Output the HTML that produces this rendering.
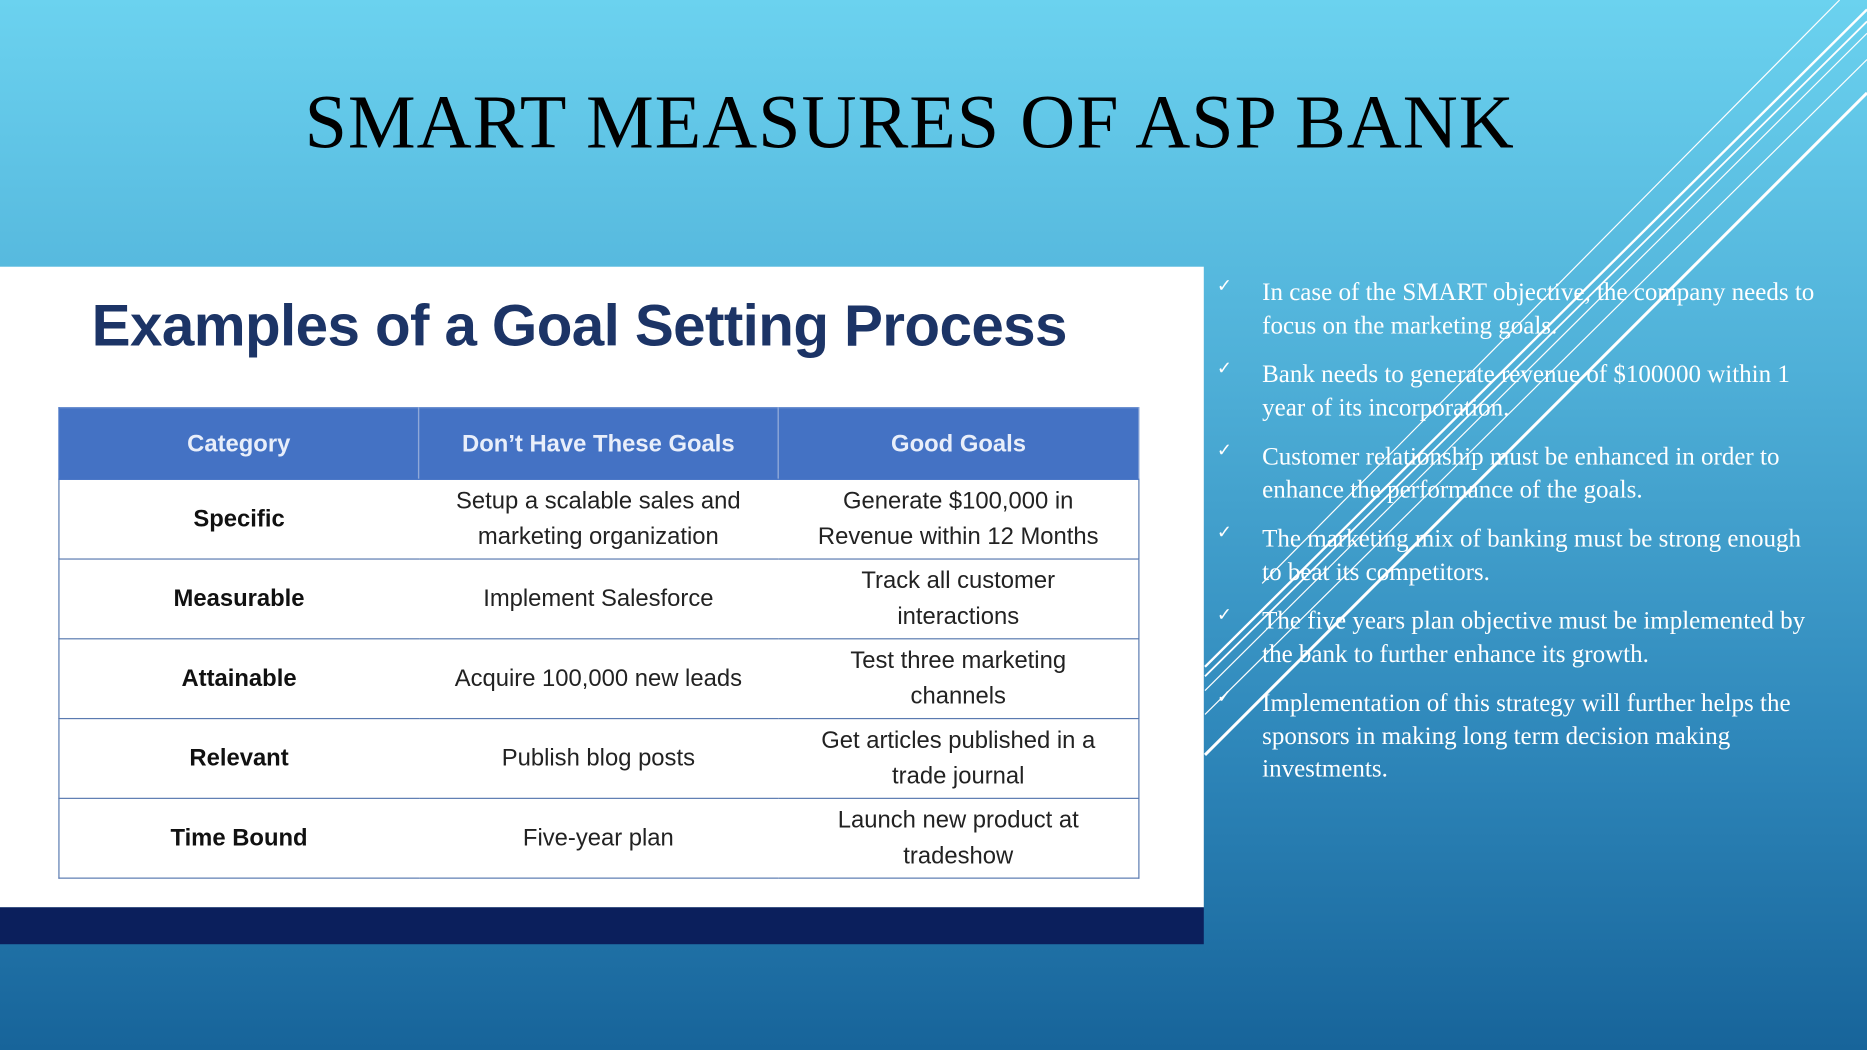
<!DOCTYPE html>
<html><head><meta charset="utf-8"><style>
html,body{margin:0;padding:0;width:1867px;height:1050px;overflow:hidden}
#s{position:absolute;left:0;top:0;width:1568px;height:882px;transform:scale(1.19069);transform-origin:0 0;
background:linear-gradient(180deg,#6bd2ef 0%,#4fb0d8 35%,#2f88bb 70%,#17649a 100%);overflow:hidden;font-family:"Liberation Serif",serif}
h1{position:absolute;left:0;width:1528px;top:66px;margin:0;text-align:center;font-weight:normal;font-size:64px;color:#000;letter-spacing:0.8px}
#box{position:absolute;left:0;top:224px;width:1011px;height:538px;background:#fff}
#bar{position:absolute;left:0;top:762px;width:1011px;height:31px;background:#0b1f5c}
#ex{position:absolute;left:77px;top:246px;font-family:"Liberation Sans",sans-serif;font-weight:bold;font-size:49px;color:#1c3466;letter-spacing:-0.5px}
table{position:absolute;left:49px;top:342px;width:908px;border-collapse:collapse;font-family:"Liberation Sans",sans-serif;font-size:20px;color:#222}
td,th{border:1.5px solid #5a7ab0;text-align:center;padding:0 6px;line-height:30px}
th{background:#4472c4;color:#e8eefa;height:59px;font-weight:bold;border-color:#4472c4;border-right:1px solid #8fa8d8}
td{height:66px}
td:first-child{font-weight:bold;color:#111}
td{border-left:none;border-right:none}
tr td:first-child{border-left:1.5px solid #5a7ab0}
tr td:last-child{border-right:1.5px solid #5a7ab0}
ul{position:absolute;left:1022px;top:232px;margin:0;padding:0;list-style:none;width:505px;color:#fff;font-size:21px;line-height:27.5px}
li{position:relative;padding-left:38px;margin-bottom:14px}
li:before{content:"\2713";position:absolute;left:0;top:-4px;font-size:15px}
svg{position:absolute;left:0;top:0}
</style></head><body><div id="s">
<h1>SMART MEASURES OF ASP BANK</h1>
<div id="box"></div><div id="bar"></div>
<div id="ex">Examples of a Goal Setting Process</div>
<table>
<tr><th style="width:33.3%">Category</th><th style="width:33.3%">Don’t Have These Goals</th><th>Good Goals</th></tr>
<tr><td>Specific</td><td>Setup a scalable sales and<br>marketing organization</td><td>Generate $100,000 in<br>Revenue within 12 Months</td></tr>
<tr><td>Measurable</td><td>Implement Salesforce</td><td>Track all customer<br>interactions</td></tr>
<tr><td>Attainable</td><td>Acquire 100,000 new leads</td><td>Test three marketing<br>channels</td></tr>
<tr><td>Relevant</td><td>Publish blog posts</td><td>Get articles published in a<br>trade journal</td></tr>
<tr><td>Time Bound</td><td>Five-year plan</td><td>Launch new product at<br>tradeshow</td></tr>
</table>
<ul>
<li>In case of the SMART objective, the company needs to focus on the marketing goals.</li>
<li>Bank needs to generate revenue of $100000 within 1 year of its incorporation.</li>
<li>Customer relationship must be enhanced in order to enhance the performance of the goals.</li>
<li>The marketing mix of banking must be strong enough to beat its competitors.</li>
<li>The five years plan objective must be implemented by the bank to further enhance its growth.</li>
<li>Implementation of this strategy will further helps the sponsors in making long term decision making investments.</li>
</ul>
<svg width="1568" height="882" viewBox="0 0 1568 882">
<g stroke="#fff" fill="none">
<line x1="1060" y1="490" x2="1545" y2="0" stroke-width="1"/>
<line x1="1012" y1="560" x2="1568" y2="8" stroke-width="2"/>
<line x1="1012" y1="568" x2="1568" y2="18" stroke-width="1.5"/>
<line x1="1012" y1="580" x2="1568" y2="28" stroke-width="1"/>
<line x1="1012" y1="600" x2="1568" y2="50" stroke-width="1"/>
<line x1="1012" y1="634" x2="1568" y2="78" stroke-width="2.5"/>
</g></svg>
</div></body></html>
